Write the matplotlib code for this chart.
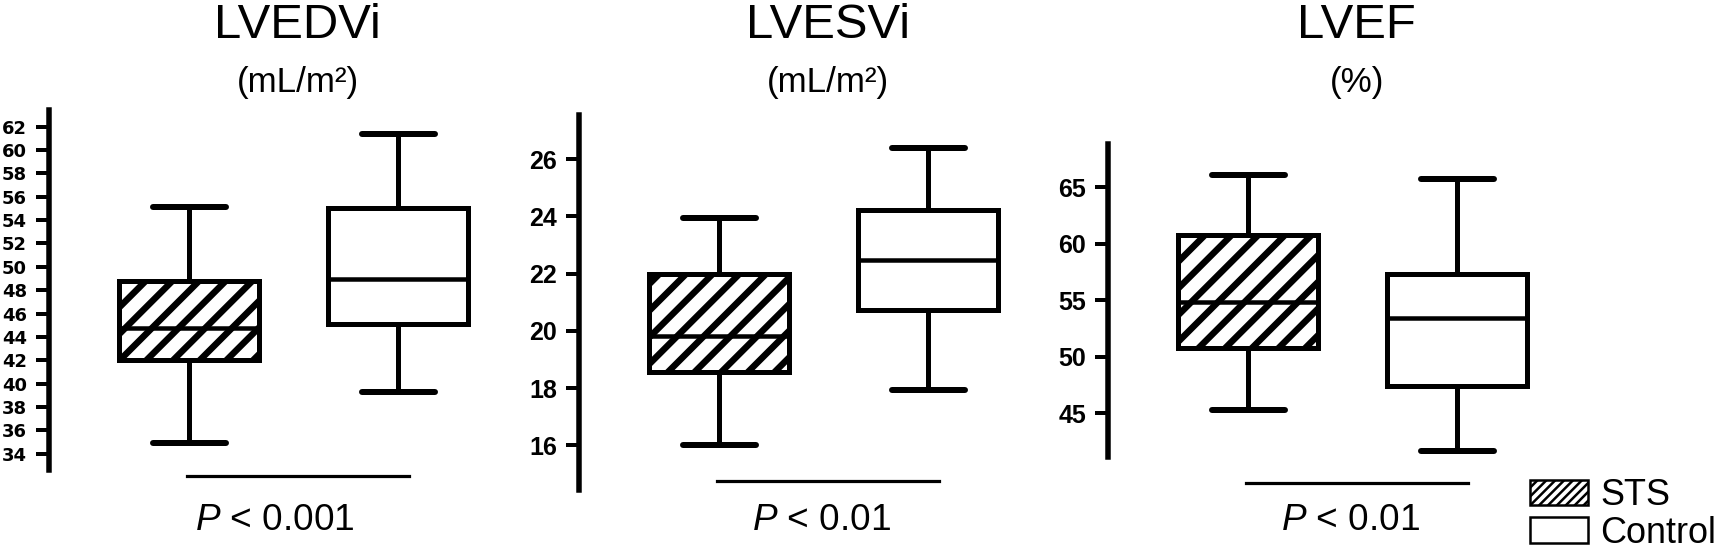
import matplotlib
matplotlib.use("Agg")
import matplotlib.pyplot as plt
from matplotlib.patches import Patch
from matplotlib.transforms import blended_transform_factory

# --- data -------------------------------------------------------------
titles = ["LVEDVi", "LVESVi", "LVEF"]
units = ["(mL/m\u00b2)", "(mL/m\u00b2)", "(%)"]
groups = ["STS", "Control"]
p_labels = ["$P$ < 0.001", "$P$ < 0.01", "$P$ < 0.01"]

sts_whislo = [34.9, 16.0, 45.3]
sts_q1 = [42.0, 18.57, 50.75]
sts_med = [44.75, 19.83, 54.88]
sts_q3 = [48.8, 22.0, 60.8]
sts_whishi = [55.1, 23.95, 66.05]

ctl_whislo = [39.3, 17.93, 41.66]
ctl_q1 = [45.1, 20.73, 47.42]
ctl_med = [48.95, 22.47, 53.4]
ctl_q3 = [55.0, 24.22, 57.37]
ctl_whishi = [61.4, 26.39, 65.73]

y_ticks = [list(range(34, 63, 2)), list(range(16, 27, 2)), list(range(45, 66, 5))]

# --- layout -----------------------------------------------------------
DPI = 160
W, H = 1717, 548

def px(v):
    # pixels -> points at this dpi
    return v * 72 / DPI

plt.rcParams["font.family"] = ["Liberation Sans", "DejaVu Sans"]
plt.rcParams["mathtext.fontset"] = "custom"
plt.rcParams["mathtext.rm"] = "Liberation Sans"
plt.rcParams["mathtext.it"] = "Liberation Sans:italic"
plt.rcParams["hatch.linewidth"] = px(6.5)

axes_px = [(49, 110, 470), (579, 115, 490), (1108, 144, 456.7)]  # left, top, bottom
ylims = [(32.6, 63.43), (14.44, 27.54), (41.16, 68.83)]
pline_y = [476, 481, 483]
ptext_x = [1.41, 1.49, 1.49]

fig = plt.figure(figsize=(W / DPI, H / DPI), dpi=DPI)

for i in range(3):
    left, top, bottom = axes_px[i]
    ax = fig.add_axes([left / W, 1 - bottom / H, 460 / W, (bottom - top) / H])
    stats = [
        dict(med=sts_med[i], q1=sts_q1[i], q3=sts_q3[i],
             whislo=sts_whislo[i], whishi=sts_whishi[i], label=groups[0]),
        dict(med=ctl_med[i], q1=ctl_q1[i], q3=ctl_q3[i],
             whislo=ctl_whislo[i], whishi=ctl_whishi[i], label=groups[1]),
    ]
    art = ax.bxp(stats, positions=[1, 2], widths=0.67, capwidths=0.35,
                 patch_artist=True, showfliers=False,
                 boxprops=dict(linewidth=px(5), edgecolor="black", facecolor="white"),
                 whiskerprops=dict(linewidth=px(5), color="black"),
                 capprops=dict(linewidth=px(6), color="black", solid_capstyle="round"),
                 medianprops=dict(linewidth=px(4.5), color="black"))
    art["boxes"][0].set_hatch("//")

    ax.set_xlim(0.33, 2.53)
    ax.set_ylim(*ylims[i])
    ax.set_yticks(y_ticks[i])
    ax.set_xticks([])
    for s in ["top", "right", "bottom"]:
        ax.spines[s].set_visible(False)
    ax.spines["left"].set_linewidth(px(5.5))
    ax.tick_params(axis="y", length=px(13), width=px(4), pad=px(9))
    for lab in ax.get_yticklabels():
        lab.set_fontweight("bold")
        if i == 0:
            lab.set_family("DejaVu Sans")
            lab.set_fontsize(px(18))
        else:
            lab.set_fontsize(px(25))

    tr = blended_transform_factory(ax.transData, fig.transFigure)
    ax.text(1.52, 1 - 38.3 / H, titles[i], transform=tr, ha="center",
            va="baseline", fontsize=px(49))
    ax.text(1.52, 1 - 91.7 / H, units[i], transform=tr, ha="center",
            va="baseline", fontsize=px(35))
    ax.plot([0.99, 2.05], [1 - pline_y[i] / H] * 2, transform=tr,
            color="black", lw=px(3.2), clip_on=False)
    ax.text(ptext_x[i], 1 - 530 / H, p_labels[i], transform=tr, ha="center",
            va="baseline", fontsize=px(37))

handles = [Patch(facecolor="white", edgecolor="black", hatch="//////", linewidth=px(2.5)),
           Patch(facecolor="white", edgecolor="black", linewidth=px(2.5))]
leg = fig.legend(handles, groups, loc="upper left",
                 bbox_to_anchor=(1530 / W, 1 - 478 / H), frameon=False,
                 fontsize=px(36), handlelength=1.6, handleheight=0.72,
                 handletextpad=0.36, labelspacing=0.08, borderpad=0,
                 borderaxespad=0)
for p in leg.get_patches():
    if hasattr(p, "set_hatch_linewidth"):
        p.set_hatch_linewidth(px(2.5))

fig.savefig("out.png", dpi=DPI)
